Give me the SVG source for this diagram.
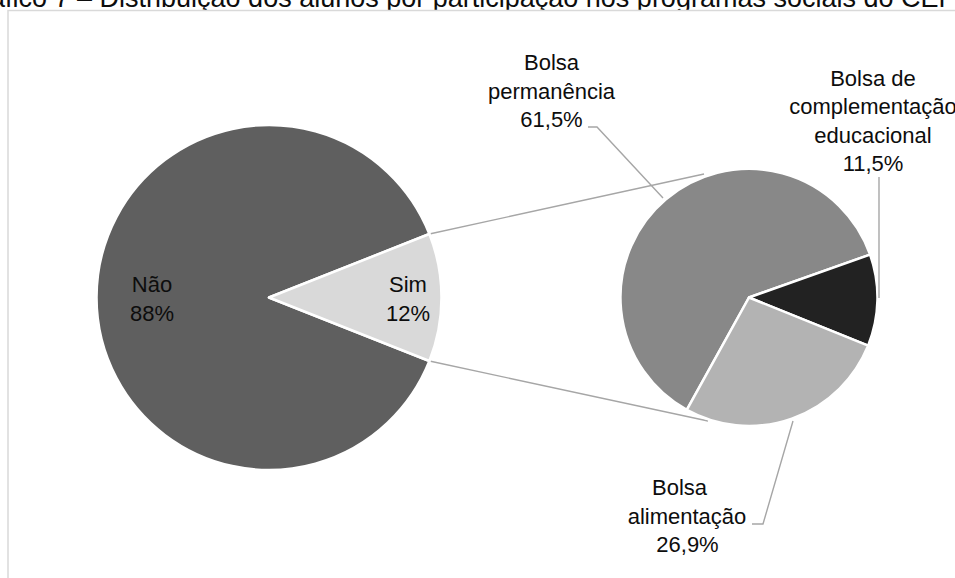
<svg xmlns="http://www.w3.org/2000/svg" width="955" height="578" viewBox="0 0 955 578">
  <style>
    .lbl { font-family: "Liberation Sans", Arial, sans-serif; font-size: 22px; fill: #0d0d0d; text-anchor: middle; }
    .ttl { font-family: "Liberation Sans", Arial, sans-serif; font-size: 27px; fill: #0d0d0d; }
    .slice { stroke: #ffffff; stroke-width: 2.5; stroke-linejoin: round; }
    .conn { fill: none; stroke: #a6a6a6; stroke-width: 1.4; }
  </style>
  <rect x="0" y="0" width="955" height="578" fill="#ffffff"/>
  <g id="title">
    <text class="ttl" x="-40" y="6.5">Gráfico 7 – Distribuição dos alunos por participação nos programas sociais do CEFET-MG</text>
  </g>
  <rect id="frame" x="8" y="10.5" width="1000" height="600" fill="#ffffff" stroke="#d9d9d9" stroke-width="1.5"/>

  <g id="connectors">
    <path class="conn" d="M429.4,234 L704,174"/>
    <path class="conn" d="M429.4,361 L708,421"/>
  </g>

  <g id="nao">
    <path class="slice" fill="#5f5f5f" d="M269,297.5 L429.4,234 A172.5,172.5 0 1 0 429.4,361 Z"/>
    <text class="lbl" x="152" y="292">Não</text>
    <text class="lbl" x="152" y="321">88%</text>
  </g>
  <g id="sim">
    <path class="slice" fill="#d9d9d9" d="M269,297.5 L429.4,234 A172.5,172.5 0 0 1 429.4,361 Z"/>
    <text class="lbl" x="408" y="292">Sim</text>
    <text class="lbl" x="408" y="321">12%</text>
  </g>

  <g id="bolsa-permanencia">
    <path class="slice" fill="#888888" d="M749,297.5 L686.8,409.9 A128.5,128.5 0 1 1 870.1,254.6 Z"/>
    <path class="conn" d="M588,127 H597 L663,198"/>
    <text class="lbl" x="551.5" y="70">Bolsa</text>
    <text class="lbl" x="551.5" y="98.5">permanência</text>
    <text class="lbl" x="551.5" y="127">61,5%</text>
  </g>
  <g id="bolsa-complementacao">
    <path class="slice" fill="#222222" d="M749,297.5 L870.1,254.6 A128.5,128.5 0 0 1 868.1,345.7 Z"/>
    <path class="conn" d="M879,177 V298"/>
    <text class="lbl" x="873" y="85.5">Bolsa de</text>
    <text class="lbl" x="873" y="114">complementação</text>
    <text class="lbl" x="873" y="142.5">educacional</text>
    <text class="lbl" x="873" y="171">11,5%</text>
  </g>
  <g id="bolsa-alimentacao">
    <path class="slice" fill="#b3b3b3" d="M749,297.5 L868.1,345.7 A128.5,128.5 0 0 1 686.8,409.9 Z"/>
    <path class="conn" d="M752,524 H763 L793,421"/>
    <text class="lbl" x="679.5" y="495">Bolsa</text>
    <text class="lbl" x="687" y="523.5">alimentação</text>
    <text class="lbl" x="687.5" y="552">26,9%</text>
  </g>
</svg>
